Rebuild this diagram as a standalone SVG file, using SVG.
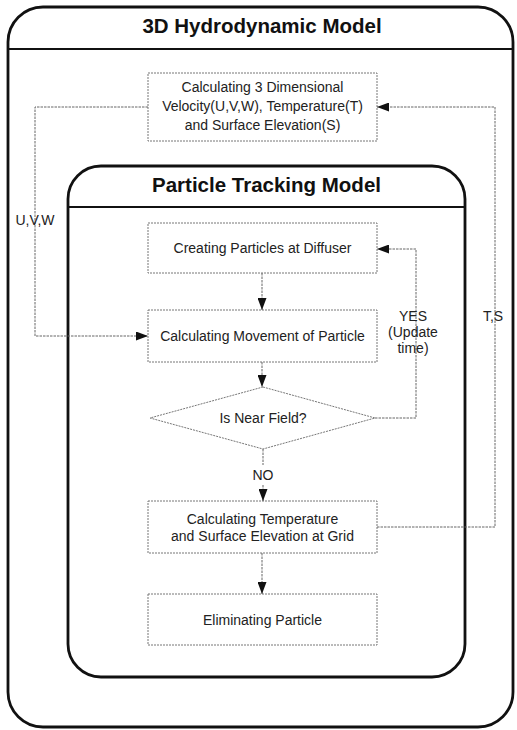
<svg xmlns="http://www.w3.org/2000/svg" width="517" height="730" viewBox="0 0 517 730">
  <defs>
    <marker id="arrow" markerUnits="userSpaceOnUse" markerWidth="12" markerHeight="9" refX="12" refY="4.5" orient="auto">
      <path d="M0,0 L12,4.5 L0,9 z" fill="#111"/>
    </marker>
    <style>
      .frame { fill: none; stroke: #111; stroke-width: 2.8; }
      .rule { stroke: #111; stroke-width: 2; }
      .title { font-family: "Liberation Sans", Arial, sans-serif; font-weight: bold; font-size: 20.5px; fill: #111; text-anchor: middle; }
      .box { fill: #fff; stroke: #777; stroke-width: 1; stroke-dasharray: 2 1; }
      .label { font-family: "Liberation Sans", Arial, sans-serif; font-size: 14px; fill: #222; text-anchor: middle; }
      .conn { fill: none; stroke: #666; stroke-width: 1; stroke-dasharray: 2.5 1; }
    </style>
  </defs>
  <rect width="517" height="730" fill="#fff"/>

  <!-- outer frame: 3D hydrodynamic model -->
  <g id="hydrodynamic-model">
    <rect class="frame" x="8" y="7" width="505" height="720" rx="35" ry="35"/>
    <line class="rule" x1="8" y1="49" x2="513" y2="49"/>
    <text class="title" x="262" y="33">3D Hydrodynamic Model</text>
  </g>

  <!-- inner frame: particle tracking model -->
  <g id="particle-tracking-model">
    <rect class="frame" x="68" y="166" width="397" height="511" rx="33" ry="33"/>
    <line class="rule" x1="68" y1="207" x2="465" y2="207"/>
    <text class="title" x="266.5" y="192">Particle Tracking Model</text>
  </g>

  <g id="velocity-box">
    <rect class="box" x="148" y="73" width="229" height="68"/>
    <text class="label" x="262.5" y="92">Calculating 3 Dimensional</text>
    <text class="label" x="262.5" y="111">Velocity(U,V,W), Temperature(T)</text>
    <text class="label" x="262.5" y="130">and Surface Elevation(S)</text>
  </g>

  <g id="creating-particles">
    <rect class="box" x="148" y="223" width="229" height="50"/>
    <text class="label" x="262.5" y="253">Creating Particles at Diffuser</text>
  </g>

  <g id="particle-movement">
    <rect class="box" x="148" y="310" width="229" height="52"/>
    <text class="label" x="262.5" y="341">Calculating Movement of Particle</text>
  </g>

  <g id="near-field">
    <polygon class="box" points="263,387 375,418 263,449 150,418"/>
    <text class="label" x="263" y="423">Is Near Field?</text>
  </g>

  <g id="grid-update">
    <rect class="box" x="148" y="501" width="229" height="52"/>
    <text class="label" x="262.5" y="523.5">Calculating Temperature</text>
    <text class="label" x="262.5" y="540.5">and Surface Elevation at Grid</text>
  </g>

  <g id="eliminating-particle">
    <rect class="box" x="148" y="594" width="229" height="51"/>
    <text class="label" x="262.5" y="625">Eliminating Particle</text>
  </g>

  <!-- connectors -->
  <g id="connectors">
    <path class="conn" d="M262,273 V310" marker-end="url(#arrow)"/>
    <path class="conn" d="M262,362 V387" marker-end="url(#arrow)"/>
    <path class="conn" d="M263,449 V465"/>
    <path class="conn" d="M263,485 V501" marker-end="url(#arrow)"/>
    <path class="conn" d="M262,553 V594" marker-end="url(#arrow)"/>
    <path class="conn" d="M375,418 H416 V249 H377" marker-end="url(#arrow)"/>
    <path class="conn" d="M148,107 H35 V336 H148" marker-end="url(#arrow)"/>
    <path class="conn" d="M377,527 H495 V107 H377" marker-end="url(#arrow)"/>
    <text class="label" x="263" y="480">NO</text>
    <text class="label" x="413" y="321">YES</text>
    <text class="label" x="413" y="337">(Update</text>
    <text class="label" x="413" y="353">time)</text>
    <text class="label" x="35" y="225">U,V,W</text>
    <text class="label" x="493" y="321">T,S</text>
  </g>
</svg>
